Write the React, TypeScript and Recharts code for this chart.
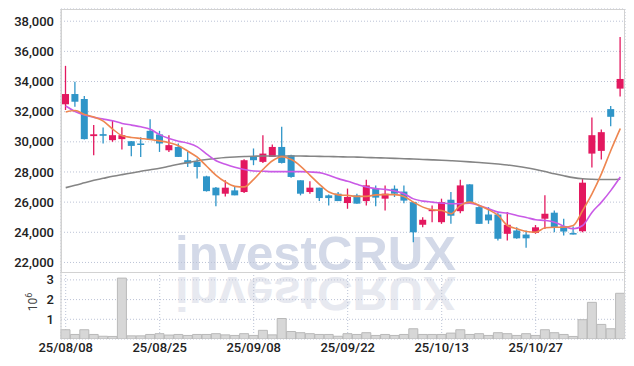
import React from 'react'
import { ComposedChart, Bar, Line, XAxis, YAxis, CartesianGrid } from 'recharts'

// ─── Data ────────────────────────────────────────────────────────

const dates = [
  '25/08/08', '25/08/11', '25/08/12', '25/08/13', '25/08/14', '25/08/18', '25/08/19', '25/08/20', '25/08/21', '25/08/22',
  '25/08/25', '25/08/26', '25/08/27', '25/08/28', '25/08/29', '25/09/01', '25/09/02', '25/09/03', '25/09/04', '25/09/05',
  '25/09/08', '25/09/09', '25/09/10', '25/09/11', '25/09/12', '25/09/15', '25/09/16', '25/09/17', '25/09/18', '25/09/19',
  '25/09/22', '25/09/23', '25/09/24', '25/09/25', '25/09/26', '25/09/29', '25/09/30', '25/10/01', '25/10/02', '25/10/10',
  '25/10/13', '25/10/14', '25/10/15', '25/10/16', '25/10/17', '25/10/20', '25/10/21', '25/10/22', '25/10/23', '25/10/24',
  '25/10/27', '25/10/28', '25/10/29', '25/10/30', '25/10/31', '25/11/03', '25/11/04', '25/11/05', '25/11/06', '25/11/07',
]

const tickDates = ['25/08/08', '25/08/25', '25/09/08', '25/09/22', '25/10/13', '25/10/27']

const opens = [
  32490, 33170, 32840, 30380, 30510, 30110, 30180, 30040, 29890, 30730,
  30490, 29440, 29660, 28780, 28670, 27710, 26960, 26560, 26780, 26670,
  29050, 28670, 29000, 29660, 29110, 27450, 26670, 26960, 26450, 26560,
  25940, 26450, 26070, 26890, 26230, 26890, 26700, 26000, 24500, 25400,
  24670, 26160, 25400, 27180, 25670, 25180, 25180, 23900, 24120, 23850,
  23960, 24900, 25300, 24400, 23950, 24070, 29220, 29400, 32170, 33530,
]
const highs = [
  35040, 33990, 33040, 31110, 30950, 31400, 30960, 30050, 30300, 31500,
  30730, 30440, 29890, 29330, 28890, 27750, 27000, 27450, 27000, 28850,
  29560, 30440, 29820, 31000, 29150, 27450, 27380, 26960, 26500, 26670,
  26900, 26560, 27490, 27110, 27110, 27110, 27100, 26000, 25000, 25780,
  26230, 26670, 27490, 27180, 25750, 25670, 25300, 25340, 24340, 24120,
  24480, 26450, 25450, 24900, 24380, 27600, 31620, 30820, 32370, 36950,
]
const lows = [
  32110, 32330, 30150, 29110, 29890, 30000, 29490, 29040, 29000, 30150,
  29330, 29330, 29000, 28330, 27560, 26700, 25720, 26370, 26450, 26600,
  28450, 28600, 29000, 28560, 27620, 26450, 26560, 26070, 25780, 26070,
  25560, 25900, 25780, 25720, 25450, 26340, 25920, 23340, 24340, 24670,
  24560, 24560, 25270, 25940, 24560, 24560, 23450, 23450, 23570, 22970,
  23900, 24220, 24000, 23780, 23850, 24000, 28290, 28830, 31040, 33000,
]
const closes = [
  33170, 32660, 30180, 30500, 30400, 30440, 30440, 29730, 29800, 30170,
  29890, 29780, 29000, 28560, 28330, 26730, 26450, 26960, 26450, 28780,
  28780, 29220, 29660, 28600, 27670, 26560, 26960, 26270, 26270, 26070,
  26340, 25900, 27110, 26300, 26560, 26560, 26100, 24000, 24830, 25500,
  26000, 25100, 27110, 25940, 24560, 24790, 23570, 24500, 23600, 23600,
  24330, 25230, 24340, 24050, 23900, 27290, 30440, 30640, 31660, 34170,
]

const volumes = [
  470000, 230000, 470000, 230000, 140000, 130000, 3090000, 160000, 160000, 230000,
  270000, 200000, 230000, 180000, 230000, 230000, 270000, 210000, 180000, 270000,
  180000, 440000, 210000, 1040000, 380000, 320000, 270000, 230000, 230000, 140000,
  270000, 230000, 320000, 180000, 230000, 180000, 230000, 520000, 230000, 230000,
  230000, 300000, 470000, 230000, 270000, 180000, 320000, 270000, 180000, 270000,
  180000, 470000, 320000, 230000, 130000, 980000, 1860000, 740000, 520000, 2320000,
]

const ma5 = [
  31975, 32074, 31808, 31642, 31375, 30843, 30410, 30290, 30224, 30157,
  30064, 29944, 29744, 29378, 28978, 28379, 27780, 27334, 27048, 27014,
  27514, 28180, 28745, 29012, 28825, 28379, 27780, 27181, 26668, 26482,
  26448, 26382, 26382, 26482, 26495, 26495, 26382, 26002, 25669, 25496,
  25450, 25230, 25783, 26002, 25783, 25496, 25117, 24451, 24231, 24051,
  24004, 24297, 24337, 24337, 24451, 25450, 26562, 27893, 29445, 30887,
]
const ma20 = [
  32374, 32008, 31775, 31622, 31508, 31395, 31222, 31109, 30996, 30829,
  30476, 30223, 30044, 29910, 29664, 29178, 28745, 28512, 28313, 28160,
  28066, 28046, 28026, 28026, 28026, 28026, 27999, 27959, 27780, 27560,
  27380, 27180, 27001, 26895, 26848, 26735, 26562, 26216, 26069, 26002,
  25935, 25895, 25895, 25935, 25783, 25563, 25337, 25271, 25117, 24984,
  24831, 24784, 24671, 24405, 24231, 24451, 25337, 26002, 26781, 27667,
]
const ma60 = [
  26961, 27114, 27281, 27447, 27580, 27713, 27827, 27933, 28046, 28146,
  28246, 28379, 28512, 28625, 28732, 28825, 28898, 28958, 28998, 29025,
  29045, 29058, 29065, 29065, 29058, 29058, 29045, 29038, 29025, 29012,
  28998, 28985, 28965, 28945, 28925, 28905, 28878, 28858, 28832, 28805,
  28779, 28745, 28712, 28672, 28625, 28579, 28525, 28465, 28379, 28279,
  28160, 28026, 27880, 27747, 27627, 27547, 27514, 27500, 27500, 27514,
]

const priceTicks = [22000, 24000, 26000, 28000, 30000, 32000, 34000, 36000, 38000]
const volumeTicks = [1000000, 2000000, 3000000]

const rows = dates.map((date, i) => ({
  date,
  open: opens[i],
  high: highs[i],
  low: lows[i],
  close: closes[i],
  range: [lows[i], highs[i]],
  volume: volumes[i],
  ma5: ma5[i],
  ma20: ma20[i],
  ma60: ma60[i],
}))

// ─── Styles ──────────────────────────────────────────────────────

const UP = '#e3185f'
const DOWN = '#2f95c8'
const GRID = '#bcc3d6'
const FONT = 'Roboto, "Liberation Sans", sans-serif'
const tickStyle = { fill: '#222', fontSize: 13, fontFamily: FONT, fontWeight: 500 }

// ─── Candle shape ────────────────────────────────────────────────

function Candle(props: any) {
  const { x, y, width, height, payload } = props
  const { open, close, high, low } = payload
  const color = close >= open ? UP : DOWN
  const top = Math.min(y, y + height)
  const h = Math.abs(height)
  const k = high - low > 0 ? h / (high - low) : 0
  const py = (v: number) => top + (high - v) * k
  const bodyTop = py(Math.max(open, close))
  const bodyBottom = py(Math.min(open, close))
  const cx = x + width / 2
  return (
    <g>
      <line x1={cx} x2={cx} y1={top} y2={top + h} stroke={color} strokeWidth={1.3} />
      <rect x={x} y={bodyTop} width={width} height={Math.max(bodyBottom - bodyTop, 1.5)} fill={color} />
    </g>
  )
}

// rotated "10⁶" unit next to the volume axis
function VolumeUnit(props: any) {
  const { viewBox } = props
  const cy = (viewBox?.y ?? 0) + 30
  return (
    <text transform={`translate(37, ${cy}) rotate(-90)`} textAnchor="middle" fontSize={12} fill="#444" fontFamily={FONT}>
      10<tspan dy={-5} fontSize={9}>6</tspan>
    </text>
  )
}

// ─── Main Component ──────────────────────────────────────────────

export default function App() {
  return (
    <div style={{ position: 'absolute', left: 0, top: 0, width: 634, height: 366, background: '#fff' }}>
      {/* watermark + reflection */}
      <svg width={634} height={366} style={{ position: 'absolute', left: 0, top: 0 }}>
        <text x={175} y={270} fontSize={48} fontWeight={700} fontFamily='"Liberation Sans", Arial, sans-serif'
          fill="#d3d9e8" textLength={281} lengthAdjust="spacingAndGlyphs">investCRUX</text>
        <text x={175} y={270} fontSize={48} fontWeight={700} fontFamily='"Liberation Sans", Arial, sans-serif'
          fill="#e7e9f0" textLength={281} lengthAdjust="spacingAndGlyphs"
          transform="translate(0, 547) scale(1, -1)">investCRUX</text>
      </svg>

      {/* price panel */}
      <div style={{ position: 'absolute', left: 0, top: 0 }}>
        <ComposedChart width={634} height={273} data={rows} margin={{ top: 9, right: 9, bottom: 0, left: 0 }} barCategoryGap={0}>
          <CartesianGrid stroke={GRID} strokeDasharray="1 2" />
          <XAxis dataKey="date" ticks={tickDates} interval={0} height={0} tick={false} axisLine={false} tickLine={false} />
          <YAxis
            domain={[21300, 38810]}
            ticks={priceTicks}
            interval={0}
            allowDataOverflow
            width={61}
            tickSize={5}
            tickMargin={2}
            tickLine={false}
            axisLine={{ stroke: '#cfcfcf' }}
            tick={tickStyle}
            tickFormatter={(v: number) => v.toLocaleString('en-US')}
          />
          <Bar dataKey="range" barSize={7} shape={<Candle />} isAnimationActive={false} />
          <Line type="monotone" dataKey="ma60" stroke="#858585" strokeWidth={1.6} dot={false} isAnimationActive={false} />
          <Line type="monotone" dataKey="ma20" stroke="#c95ae6" strokeWidth={1.6} dot={false} isAnimationActive={false} />
          <Line type="monotone" dataKey="ma5" stroke="#ee8650" strokeWidth={1.6} dot={false} isAnimationActive={false} />
        </ComposedChart>
      </div>

      {/* volume panel */}
      <div style={{ position: 'absolute', left: 0, top: 272 }}>
        <ComposedChart width={634} height={94} data={rows} margin={{ top: 0, right: 9, bottom: 0, left: 0 }} barCategoryGap={0}>
          <CartesianGrid stroke={GRID} strokeDasharray="1 2" />
          <XAxis
            dataKey="date"
            ticks={tickDates}
            interval={0}
            height={27}
            tickSize={2}
            tickMargin={2}
            axisLine={false}
            tickLine={false}
            tick={tickStyle}
          />
          <YAxis
            domain={[0, 3400000]}
            ticks={volumeTicks}
            interval={0}
            allowDataOverflow
            width={61}
            tickSize={5}
            tickMargin={2}
            tickLine={false}
            axisLine={{ stroke: '#cfcfcf' }}
            tick={tickStyle}
            tickFormatter={(v: number) => String(v / 1000000)}
            label={<VolumeUnit />}
          />
          <Bar dataKey="volume" fill="#d7d7d7" stroke="#b9b9b9" strokeWidth={1} isAnimationActive={false} />
        </ComposedChart>
      </div>

      {/* panel frames */}
      <div style={{ position: 'absolute', left: 61, top: 9, width: 564, height: 264, border: '1px solid #d2d2d2', boxSizing: 'border-box', pointerEvents: 'none' }} />
      <div style={{ position: 'absolute', left: 61, top: 272, width: 564, height: 67, borderRight: '1px solid #d2d2d2', boxSizing: 'border-box', pointerEvents: 'none' }} />
    </div>
  )
}
